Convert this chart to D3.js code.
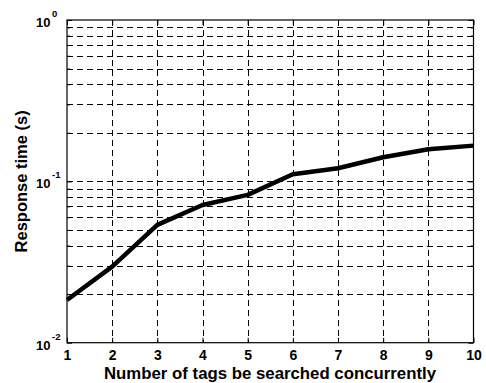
<!DOCTYPE html>
<html>
<head>
<meta charset="utf-8">
<script src="https://cdn.jsdelivr.net/npm/d3@7"></script>
<style>
  html, body { margin: 0; padding: 0; background: #fff; }
  svg { display: block; }
  text { font-family: "Liberation Sans", Arial, sans-serif; font-weight: bold; fill: #000; }
</style>
</head>
<body>
<svg id="chart" width="486" height="383"></svg>
<script>
// ---- data ----
const tagCounts = [1, 2, 3, 4, 5, 6, 7, 8, 9, 10];
const responseTime = [0.0184, 0.0296, 0.0537, 0.0714, 0.0824, 0.1107, 0.1206, 0.141, 0.158, 0.1665];
const xTickValues = [1, 2, 3, 4, 5, 6, 7, 8, 9, 10];
const yDecadeValues = [0.01, 0.1, 1];
const yDecadeExponents = ["-2", "-1", "0"];
const xTitle = "Number of tags be searched concurrently";
const yTitle = "Response time (s)";

// ---- layout ----
const L = 67, R = 473.5, T = 20, B = 342.7;
const svg = d3.select("#chart");
const x = d3.scaleLinear().domain([1, 10]).range([L, R]);
const y = d3.scaleLog().domain([0.01, 1]).range([B, T]);

const grid = svg.append("g").attr("stroke", "#000").attr("stroke-width", 1)
  .attr("stroke-dasharray", "6,4").attr("fill", "none");

// vertical grid
grid.selectAll("line.vx").data(xTickValues.filter(d => d > 1 && d < 10)).join("line")
  .attr("x1", d => Math.round(x(d)) + 0.5).attr("x2", d => Math.round(x(d)) + 0.5)
  .attr("y1", T).attr("y2", B);

// horizontal grid (log minor)
const yAll = y.ticks();
grid.selectAll("line.hy").data(yAll.filter(d => d > 0.0101 && d < 0.99)).join("line")
  .attr("y1", d => Math.round(y(d)) + 0.5).attr("y2", d => Math.round(y(d)) + 0.5)
  .attr("x1", L).attr("x2", R);

// axes with inward ticks
const axB = d3.axisBottom(x).tickValues(xTickValues).tickSizeInner(-5).tickSizeOuter(0).tickPadding(7)
  .tickFormat(d3.format("d"));
const gB = svg.append("g").attr("transform", `translate(0,${B})`).call(axB);
gB.selectAll("text").style("font-size", "14px").style("font-weight", "bold");

const axT = d3.axisTop(x).tickValues(xTickValues).tickSizeInner(-5).tickSizeOuter(0).tickFormat("");
svg.append("g").attr("transform", `translate(0,${T})`).call(axT);

const yMinor = yAll;
const axLeft = d3.axisLeft(y).tickValues(yMinor).tickSizeInner(-3).tickSizeOuter(0).tickFormat("");
const gL = svg.append("g").attr("transform", `translate(${L},0)`).call(axLeft);
gL.selectAll(".tick line").attr("x2", d => yDecadeValues.includes(d) ? 5 : 3);
const axRight = d3.axisRight(y).tickValues(yMinor).tickSizeInner(-3).tickSizeOuter(0).tickFormat("");
const gR = svg.append("g").attr("transform", `translate(${R},0)`).call(axRight);
gR.selectAll(".tick line").attr("x2", d => yDecadeValues.includes(d) ? -5 : -3);

svg.selectAll(".domain").remove();
svg.selectAll(".tick line").attr("stroke", "#000");

// box
svg.append("rect").attr("x", L).attr("y", T).attr("width", R - L).attr("height", B - T)
  .attr("fill", "none").attr("stroke", "#000").attr("stroke-width", 1.2);

// y decade labels with superscript
const yl = svg.append("g");
yDecadeValues.forEach((v, i) => {
  yl.append("text").attr("x", 50.5).attr("y", y(v) + 7).attr("text-anchor", "end")
    .style("font-size", "13px").text("10");
  yl.append("text").attr("x", 52).attr("y", y(v) - 3).attr("text-anchor", "start")
    .style("font-size", "9.5px").text(yDecadeExponents[i]);
});

// line
const line = d3.line().x((d, i) => x(tagCounts[i])).y(d => y(d));
svg.append("path").datum(responseTime).attr("d", line)
  .attr("fill", "none").attr("stroke", "#000").attr("stroke-width", 4.5)
  .attr("stroke-linejoin", "round").attr("stroke-linecap", "butt");

// titles
svg.append("text").attr("x", 270).attr("y", 379).attr("text-anchor", "middle")
  .style("font-size", "16.8px").text(xTitle);
svg.append("text").attr("transform", `translate(27,${(T + B) / 2}) rotate(-90)`)
  .attr("text-anchor", "middle").style("font-size", "16.5px").text(yTitle);
</script>
</body>
</html>
